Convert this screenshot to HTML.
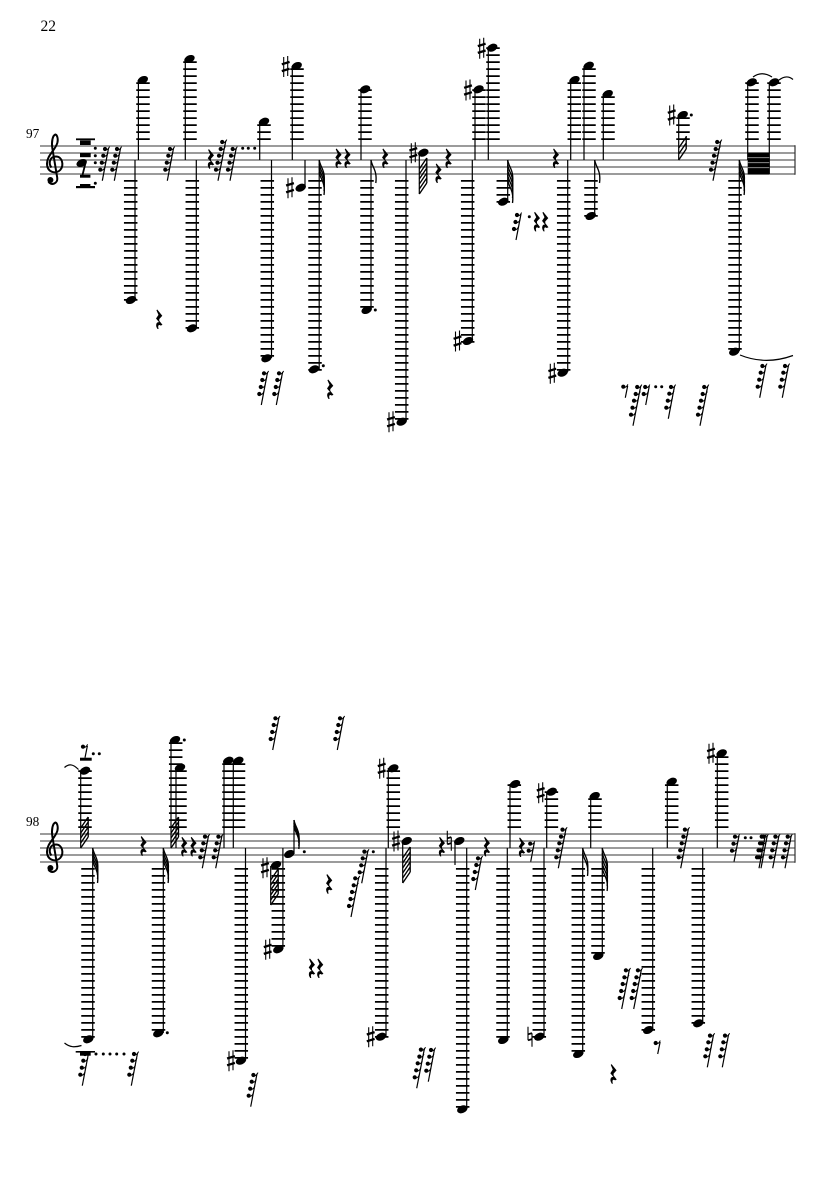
<!DOCTYPE html>
<html><head><meta charset="utf-8"><style>
html,body{margin:0;padding:0;background:#fff}
svg{display:block}
.s{stroke:#7a7a7a;stroke-width:1.5;fill:none}
.l{stroke:#000;stroke-width:13.5;stroke-dasharray:1.7 5.3;fill:none}
.t{stroke:#000;stroke-width:1.2;fill:none}
.k{stroke:#000;stroke-width:1.35;fill:none}
text{font-family:"Liberation Serif",serif;fill:#000}
</style></head><body>
<svg xmlns="http://www.w3.org/2000/svg" width="835" height="1181" viewBox="0 0 835 1181">
<defs>
<ellipse id="h" rx="5.5" ry="3.7" transform="rotate(-24)"/>
<g id="sh" stroke="#000" fill="none"><path d="M-2-9.5V10.5M2-10.5V9.5" stroke-width="1.1"/><path d="M-3.9-2.2L3.9-4.6M-3.9 4.6L3.9 2.2" stroke-width="2.3"/></g>
<g id="na" stroke="#000" fill="none"><path d="M-2-10V3.5M2-3.5V10" stroke-width="1.1"/><path d="M-2-2.4L2-3.6M-2 3.6L2 2.4" stroke-width="1.8"/></g>
<g id="q" stroke="#000" stroke-width=".6"><path d="M-1.8-9.4L2.9-3.6 0-.4 0 1.6 3 5.4 1.8 6C.2 4.9-1.9 5.2-.8 9.4L-1.3 9.4C-3.6 6-2.6 2.4 .8 3.3L-2.6-.8 -.2-4.4-2.2-9Z"/></g>
<g id="d"><circle r="2.1"/><path d="M0 .4C1.5 1.2 3.4 .5 4.6-2.4" stroke="#000" stroke-width="1" fill="none"/></g>
<g id="r1"><path class="t" d="M0 0L2.4-12"/><use href="#d" x="-2" y="-11"/></g>
<g id="r2"><path class="t" d="M0 0L3.6-19"/><use href="#d" x="-2" y="-11"/><use href="#d" x="-.5" y="-18"/></g>
<g id="r3"><path class="t" d="M0 0L5-26"/><use href="#d" x="-2" y="-11"/><use href="#d" x="-.5" y="-18"/><use href="#d" x="1" y="-25"/></g>
<g id="r4"><path class="t" d="M0 0L6.3-33"/><use href="#d" x="-2" y="-11"/><use href="#d" x="-.5" y="-18"/><use href="#d" x="1" y="-25"/><use href="#d" x="2.7" y="-31.7"/></g>
<g id="r5"><path class="t" d="M0 0L7.8-40"/><use href="#d" x="-2" y="-11"/><use href="#d" x="-.5" y="-18"/><use href="#d" x="1" y="-25"/><use href="#d" x="2.7" y="-31.7"/><use href="#d" x="4.2" y="-38.7"/></g>
<path id="f1" d="M0 0C.8 7 6.5 10 4.8 23" class="k"/>
<g id="f2"><use href="#f1"/><use href="#f1" y="5"/></g>
<g id="f3"><use href="#f1"/><use href="#f1" y="3"/><use href="#f1" y="6"/></g>
<g id="f4"><use href="#f1"/><use href="#f1" y="4"/><use href="#f1" y="8"/><use href="#f1" y="12"/></g>
<g id="f5"><use href="#f1"/><use href="#f1" y="5"/><use href="#f1" y="10"/><use href="#f1" y="15"/><use href="#f1" y="20"/></g>
<path id="fs" class="k" d="M0 0L7.5-11M0-6L7.5-17M0-12L7.5-23M7.5-24V-11"/>
<path id="fd" class="k" d="M0 0L7.5-11M0-5L7.5-16M0-10L7.5-21M0-15L7.5-26M0-20L7.5-31M7.5-31V-11"/>
<path id="fl" class="k" d="M0 0L7.5-11M0-5L7.5-16M0-10L7.5-21M0-15L7.5-26M0-20L7.5-31M0-25L7.5-36M7.5-36V-11"/>
<g id="cl"><path d="M51.4 167.5C48 163 50 156.5 56 156.5C62 156.5 64.5 165 60.2 170C56 174.5 47 172.5 47 163.5C47 155.5 55 150.5 57.3 143C58.6 138 56.6 134.5 55.4 134.5C52.5 135.5 51.4 142 52.3 148L57.2 177.5C58.2 184 50.5 186 48.4 181.5" fill="none" stroke="#000" stroke-width="2"/><circle cx="50.4" cy="180" r="3"/></g>
</defs>

<text x="40.5" y="31" font-size="15.5">22</text>
<text x="26" y="138" font-size="13.3">97</text>
<text x="26" y="826" font-size="13.3">98</text>

<!-- staves -->
<path class="s" d="M40 146H795M40 153H795M40 160H795M40 167H795M40 174H795M40 834H795M40 841H795M40 848H795M40 855H795M40 862H795"/>
<path d="M795 145.3V174.7M795 833.3V862.7" stroke="#333" stroke-width="1.2"/>
<use href="#cl"/><use href="#cl" y="688"/>

<!-- ledger stacks -->
<path class="l" d="M143 140V82M190 140V61M264 140V124M297 140V68M365 140V89M479 140V89M493 140V47M574.3 140V82M589 140V68M608 140V96M683 140V117M752 140V82M774 140V82"/>
<path class="l" d="M130.7 180V300.7M192.3 180V328.7M267.3 180V356.7M315 180V370.7M367 180V307.7M401.7 180V419.7M467.7 180V342.7M503.3 180V202.7M563.7 180V370.7M591 180V216.7M735 180V349.7"/>
<path class="l" d="M85 828V770M175.7 828V742M180 828V770M229 828V763M238.5 828V763M393.3 828V770M514.3 828V784M551.4 828V791M595 828V798M671.7 828V784M721.7 828V756"/>
<path class="l" d="M88 868V1037.7M158.5 868V1030.7M241.3 868V1058.7M278.3 868V946.7M381.7 868V1037.7M462.7 868V1107.7M503 868V1037.7M539.3 868V1037.7M578.3 868V1051.7M598 868V953.7M648.3 868V1030.7M698.3 868V1023.7"/>

<!-- stems -->
<path class="t" d="M138.4 160V80M185.3 160V59M259.7 160V122M292.3 160V66M361 160V89M475 160V89M488.3 160V48M570.7 160V80M584 160V66M603.3 160V94M678.7 160V115M747.7 160V83M769.3 174V83
M135 160V300M196.3 160V328M271.5 160V358M305 160V187M319.2 160V369M371 160V310M406 160V421M472.3 160V341M507.7 160V201M567.7 160V372M594.7 160V216M739.3 160V351M419.3 153V194
M80.7 848V771M171 848V740M176 848V768M224 848V761M233.3 848V761M388.3 848V768M455 841V865M510 848V784M546.7 848V792M590.7 848V796M667.3 848V782M717.3 848V753M402.7 842V883M270.7 866V905M294 854V820
M92.7 848V1039M163.3 848V1033M245.5 848V1060M282.9 848V949M386 848V1037M466.7 848V1109M507.3 848V1040M544 848V1037M582.7 848V1054M602.3 848V956M652.7 848V1030M702.7 848V1023"/>

<!-- heads -->
<g>
<use href="#h" x="142.8" y="80"/><use href="#h" x="189.5" y="59"/><use href="#h" x="264" y="121.7"/><use href="#h" x="296.7" y="66"/><use href="#h" x="365" y="89.3"/><use href="#h" x="478.5" y="89.3"/><use href="#h" x="492.2" y="47.7"/><use href="#h" x="574.5" y="80"/><use href="#h" x="588.7" y="65.7"/><use href="#h" x="607.7" y="94"/><use href="#h" x="682.7" y="115"/><use href="#h" x="751.7" y="82.3"/><use href="#h" x="774" y="82.3"/>
<use href="#h" x="131" y="300"/><use href="#h" x="192" y="328.3"/><use href="#h" x="266.5" y="358.3"/><use href="#h" x="300.7" y="187.7"/><use href="#h" x="314" y="369.3"/><use href="#h" x="366.7" y="310"/><use href="#h" x="401.7" y="421.7"/><use href="#h" x="423.3" y="152.7"/><use href="#h" x="468" y="341"/><use href="#h" x="503.3" y="201.7"/><use href="#h" x="562.7" y="372.7"/><use href="#h" x="590.7" y="216"/><use href="#h" x="734.3" y="351.7"/>
<use href="#h" x="85" y="770.7"/><use href="#h" x="175" y="740"/><use href="#h" x="180" y="767.7"/><use href="#h" x="228.3" y="760.7"/><use href="#h" x="238.3" y="760.7"/><use href="#h" x="276" y="865"/><use href="#h" x="289.3" y="854"/><use href="#h" x="393.3" y="768.3"/><use href="#h" x="406.7" y="841"/><use href="#h" x="459.3" y="841"/><use href="#h" x="515" y="784"/><use href="#h" x="551.7" y="791.7"/><use href="#h" x="594.7" y="796"/><use href="#h" x="671.7" y="781.7"/><use href="#h" x="721.7" y="753.3"/>
<use href="#h" x="88.3" y="1039.3"/><use href="#h" x="158.3" y="1033.3"/><use href="#h" x="241" y="1060.7"/><use href="#h" x="278.3" y="949.3"/><use href="#h" x="381" y="1036.7"/><use href="#h" x="462.3" y="1109.3"/><use href="#h" x="503.3" y="1040"/><use href="#h" x="539.3" y="1036.7"/><use href="#h" x="578.3" y="1054"/><use href="#h" x="598.3" y="956"/><use href="#h" x="648.3" y="1030"/><use href="#h" x="698.3" y="1023.3"/>
</g>

<!-- accidentals -->
<use href="#sh" x="285.7" y="66.5"/><use href="#sh" x="290" y="187.7"/><use href="#sh" x="413.3" y="152.7"/><use href="#sh" x="468" y="90"/><use href="#sh" x="481.7" y="48.3"/><use href="#sh" x="671.7" y="115"/><use href="#sh" x="391" y="421.7"/><use href="#sh" x="457.5" y="341"/><use href="#sh" x="552.3" y="373.3"/>
<use href="#sh" x="265" y="867.7"/><use href="#sh" x="381.7" y="768.3"/><use href="#sh" x="396" y="841"/><use href="#sh" x="540.7" y="792.7"/><use href="#sh" x="711" y="753.3"/><use href="#sh" x="231" y="1060.7"/><use href="#sh" x="267.7" y="949.3"/><use href="#sh" x="370.7" y="1036.7"/>
<use href="#na" x="449.3" y="840.7"/><use href="#na" x="530" y="1036.7"/>

<!-- flags -->
<use href="#f4" x="319.2" y="160"/><use href="#f1" x="371" y="160"/><use href="#f5" x="507.7" y="160"/><use href="#f1" x="594.7" y="160"/><use href="#f4" x="739.3" y="160"/>
<use href="#fl" x="419.3" y="194"/><use href="#fs" x="678.7" y="160"/>
<use href="#fd" x="80.7" y="848"/><use href="#fd" x="171" y="848"/><use href="#fl" x="270.7" y="905"/><use href="#fl" x="402.7" y="883"/><use href="#f3" x="294" y="820"/>
<use href="#f4" x="92.7" y="848"/><use href="#f4" x="163.3" y="848"/><use href="#f2" x="582.7" y="848"/><use href="#f5" x="602.3" y="848"/>

<!-- dots -->
<g>
<circle cx="95.3" cy="148.3" r="1.5"/><circle cx="95.3" cy="155.7" r="1.5"/><circle cx="95.3" cy="162.7" r="1.5"/><circle cx="95.3" cy="183.3" r="1.5"/>
<circle cx="242.7" cy="148.3" r="1.5"/><circle cx="248.3" cy="148.3" r="1.5"/><circle cx="254.7" cy="148.3" r="1.5"/>
<circle cx="323.3" cy="365.7" r="1.5"/><circle cx="375.3" cy="310" r="1.5"/><circle cx="529.3" cy="216.7" r="1.5"/><circle cx="691.3" cy="115" r="1.5"/>
<circle cx="655.7" cy="386.7" r="1.5"/><circle cx="661.7" cy="386.7" r="1.5"/>
<circle cx="93.3" cy="753.7" r="1.5"/><circle cx="99.3" cy="753.7" r="1.5"/><circle cx="184.3" cy="740" r="1.5"/><circle cx="304.3" cy="851.7" r="1.5"/><circle cx="373.3" cy="851.7" r="1.5"/>
<circle cx="745.3" cy="837.7" r="1.5"/><circle cx="751" cy="837.7" r="1.5"/>
<circle cx="96" cy="1054" r="1.5"/><circle cx="103.3" cy="1054" r="1.5"/><circle cx="110" cy="1054" r="1.5"/><circle cx="116.7" cy="1054" r="1.5"/><circle cx="124" cy="1054" r="1.5"/><circle cx="167.3" cy="1032.7" r="1.5"/>
</g>

<!-- beams and multi rests -->
<rect x="747.7" y="152.6" width="21.6" height="21.8"/>
<path d="M747.7 157.6H769.3M747.7 162.6H769.3M747.7 167.6H769.3" stroke="#8a8a8a" stroke-width="1"/>
<g>
<rect x="76" y="138.4" width="19" height="1.8"/><rect x="80" y="140.4" width="10.7" height="4.6"/><rect x="80" y="153" width="10.7" height="4.2"/><rect x="80" y="174.7" width="10.4" height="3"/><rect x="80" y="184" width="10.4" height="2"/><rect x="76" y="186" width="19" height="2.2"/>
<use href="#h" x="81.7" y="163"/><path d="M85.5 163L82.5 175" stroke="#000" stroke-width="1.8"/>
<rect x="80" y="757.7" width="11.7" height="3"/>
<rect x="75.7" y="1051" width="19.3" height="1.6"/><rect x="80" y="1052.5" width="10.7" height="3.2"/>
</g>

<!-- small rests -->
<use href="#r4" x="102.3" y="180.7"/><use href="#r4" x="114.3" y="180.7"/><use href="#r4" x="167.3" y="180.7"/><use href="#r5" x="218" y="180.7"/><use href="#r4" x="230" y="180.7"/><use href="#r5" x="713" y="180.7"/><use href="#r3" x="516" y="240"/>
<use href="#r4" x="261.3" y="405"/><use href="#r4" x="276.3" y="405"/><use href="#r4" x="759.7" y="397.7"/><use href="#r4" x="782.3" y="397.7"/>
<use href="#r1" x="625.3" y="397.7"/><use href="#r5" x="633" y="425.7"/><use href="#r2" x="645.7" y="405"/><use href="#r4" x="668.3" y="418.7"/><use href="#r5" x="700" y="425.7"/>
<use href="#r1" x="85" y="757.7"/>
<use href="#r4" x="202.3" y="868.3"/><use href="#r4" x="215.7" y="868.3"/><use href="#r4" x="272.7" y="750"/><use href="#r4" x="337.3" y="750"/><use href="#r4" x="361.7" y="883.3"/><use href="#r5" x="351" y="917"/>
<use href="#r4" x="475.3" y="890"/><use href="#r2" x="530.7" y="861.7"/><use href="#r5" x="558.3" y="868.3"/><use href="#r5" x="680.7" y="868.3"/><use href="#r3" x="734" y="861.7"/><use href="#r4" x="759" y="868.3"/><use href="#r4" x="761" y="868.3"/><use href="#r4" x="772.7" y="868.3"/><use href="#r4" x="785" y="868.3"/>
<use href="#r4" x="82.3" y="1085.7"/><use href="#r4" x="131.3" y="1085.7"/><use href="#r4" x="250.7" y="1106.7"/><use href="#r5" x="416.7" y="1088.3"/><use href="#r4" x="428.3" y="1081.7"/><use href="#r5" x="621.7" y="1009"/><use href="#r5" x="633.7" y="1009"/><use href="#r1" x="657.7" y="1054"/><use href="#r4" x="707.3" y="1067.3"/><use href="#r4" x="722.3" y="1067.3"/>

<!-- quarter rests -->
<use href="#q" x="210.7" y="159"/><use href="#q" x="338.3" y="158.3"/><use href="#q" x="347.3" y="158.3"/><use href="#q" x="385" y="158.3"/><use href="#q" x="448.3" y="158.3"/><use href="#q" x="438.3" y="173.3"/><use href="#q" x="555.7" y="158.3"/><use href="#q" x="536.7" y="221.7"/><use href="#q" x="545" y="221.7"/><use href="#q" x="159" y="319.3"/><use href="#q" x="330" y="389.3"/>
<use href="#q" x="143.3" y="846"/><use href="#q" x="184" y="846.7"/><use href="#q" x="193.3" y="846.7"/><use href="#q" x="329" y="884"/><use href="#q" x="441.7" y="846.7"/><use href="#q" x="486.7" y="846.7"/><use href="#q" x="521.7" y="847.3"/><use href="#q" x="311.7" y="968.3"/><use href="#q" x="320" y="968.3"/><use href="#q" x="613.3" y="1074"/>

<!-- ties -->
<path class="t" d="M753 77C759 72.5 765 72.5 772 77M779 80C784 76 789 76 793 79.5M740 355C757 362 775 362 793 355.5M64.5 767.5C69 763.5 73 764 78.5 769.5M64.5 1043C70 1047.5 75 1047.5 81.5 1045.5"/>
</svg>
</body></html>
